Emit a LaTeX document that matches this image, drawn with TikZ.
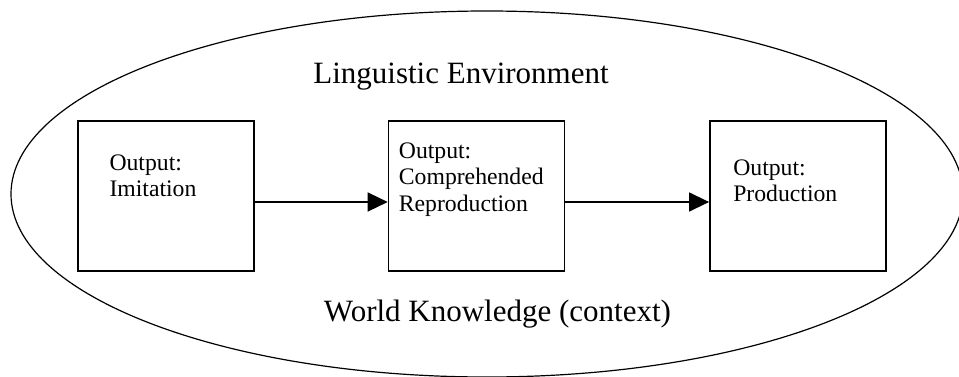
\documentclass[tikz,border=0pt]{standalone}
\usepackage{fontspec}
\setmainfont{Liberation Serif}
\usetikzlibrary{shapes.geometric, arrows.meta, positioning}

\begin{document}
\begin{tikzpicture}[
    x=1pt, y=1pt,
    node distance=133pt,
    env/.style={draw, ellipse, line width=1.2pt, minimum width=952pt, minimum height=366pt, inner sep=0pt},
    box/.style={draw, line width=1.4pt, minimum width=176pt, minimum height=150pt, inner sep=0pt},
    boxtext/.style={align=left, inner sep=0pt, anchor=north west, font=\fontsize{23.7}{26.5}\selectfont},
    bigtext/.style={inner sep=0pt, anchor=base, font=\fontsize{31}{36}\selectfont},
    arrow/.style={-{Triangle[length=20pt, width=19pt]}, line width=1.4pt}
]
\useasboundingbox (0,0) rectangle (959,376);

\node[env] (ling) at (487,182) {};
\node[bigtext] (lingtxt) at (461,293) {Linguistic Environment};
\node[bigtext] (world) at (497.5,55) {World Knowledge (context)};

\node[box] (imit) at (166,180) {};
\node[box, right=of imit] (compr) {};
\node[box, right=144pt of compr] (prod) {};

\node[boxtext] (imittxt) at ([shift={(32,-34)}]imit.north west) {Output:\\Imitation};
\node[boxtext] (comprtxt) at ([shift={(11,-22)}]compr.north west) {Output:\\Comprehended\\Reproduction};
\node[boxtext] (prodtxt) at ([shift={(24,-39)}]prod.north west) {Output:\\Production};

\draw[arrow] ([yshift=-6pt]imit.east) -- ([yshift=-6pt]compr.west);
\draw[arrow] ([yshift=-6pt]compr.east) -- ([yshift=-6pt]prod.west);

\end{tikzpicture}
\end{document}
